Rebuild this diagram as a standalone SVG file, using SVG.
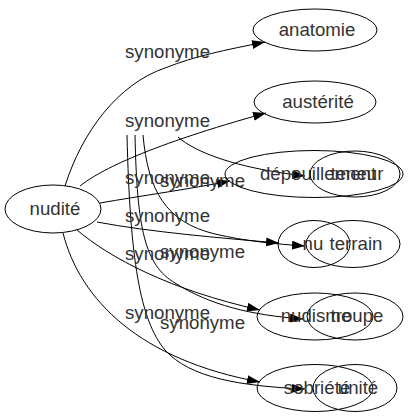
<svg xmlns="http://www.w3.org/2000/svg" width="410" height="419" viewBox="0 0 410 419">
<defs>
<style>
.n ellipse{fill:none;stroke:#000;stroke-width:1}
.t{font-family:"Liberation Sans",Arial,sans-serif;font-size:18.67px;fill:#333;text-anchor:middle}
.e path{fill:none;stroke:#000;stroke-width:1;marker-end:url(#ah)}
</style>
<marker id="ah" markerUnits="userSpaceOnUse" markerWidth="14" markerHeight="10" refX="13" refY="4.5" orient="auto">
<path d="M0,0 L13,4.5 L0,9 z" fill="#000"/>
</marker>
</defs>
<rect width="410" height="419" fill="#fff"/>
<g id="connectors" class="e">
<path d="M65,186 C82,132 118,84 165,68 C195,56 225,50 265,42"/>
<path d="M80,186 C100,170 150,145 266,113"/>
<path d="M100,203 C140,196 190,189 230,181"/>
<path d="M97,222 C150,232 220,238 279,243"/>
<path d="M77,230 C110,258 170,290 260,310"/>
<path d="M63,233 C80,300 140,360 260,382"/>
<path d="M178,137 C195,152 235,168 305,176"/>
<path d="M143,135 C148,190 165,222 215,234 C245,241 275,244 305,246"/>
<path d="M135,135 C137,230 145,265 175,283 C210,305 250,315 303,319"/>
<path d="M127,135 C130,260 140,320 165,350 C190,378 240,386 305,389"/>
</g>
<g id="labels">
<text class="t" x="167.5" y="58">synonyme</text>
<text class="t" x="167.5" y="127">synonyme</text>
<text class="t" x="167.5" y="184">synonyme</text>
<text class="t" x="202.5" y="187">synonyme</text>
<text class="t" x="167.5" y="222">synonyme</text>
<text class="t" x="167.5" y="260">synonyme</text>
<text class="t" x="202.5" y="258">synonyme</text>
<text class="t" x="167.5" y="319">synonyme</text>
<text class="t" x="202.5" y="329">synonyme</text>
</g>
<g id="nudite" class="n"><ellipse cx="53" cy="209" rx="48" ry="24"/><text class="t" x="55" y="215">nudité</text></g>
<g id="anatomie" class="n"><ellipse cx="315" cy="30" rx="62" ry="21"/><text class="t" x="317" y="36">anatomie</text></g>
<g id="austerite" class="n"><ellipse cx="315" cy="102" rx="61" ry="21"/><text class="t" x="318" y="108">austérité</text></g>
<g id="depouillement" class="n"><ellipse cx="314" cy="174" rx="89" ry="23.5"/><text class="t" x="318" y="180">dépouillement</text></g>
<g id="teneur" class="n"><ellipse cx="355" cy="174" rx="45" ry="23"/><text class="t" x="357" y="180">teneur</text></g>
<g id="nu" class="n"><ellipse cx="314" cy="244" rx="36" ry="23.5"/><text class="t" x="313" y="250">nu</text></g>
<g id="terrain" class="n"><ellipse cx="353" cy="244" rx="47" ry="23.5"/><text class="t" x="356" y="250">terrain</text></g>
<g id="nudisme" class="n"><ellipse cx="315" cy="316.5" rx="58" ry="23.5"/><text class="t" x="316" y="322">nudisme</text></g>
<g id="troupe" class="n"><ellipse cx="355" cy="316.5" rx="48" ry="23.5"/><text class="t" x="357" y="322">troupe</text></g>
<g id="sobriete" class="n"><ellipse cx="315" cy="388" rx="58" ry="23.5"/><text class="t" x="317" y="394">sobriété</text></g>
<g id="unite" class="n"><ellipse cx="355" cy="388" rx="42" ry="23.5"/><text class="t" x="358" y="394">unité</text></g>
</svg>
